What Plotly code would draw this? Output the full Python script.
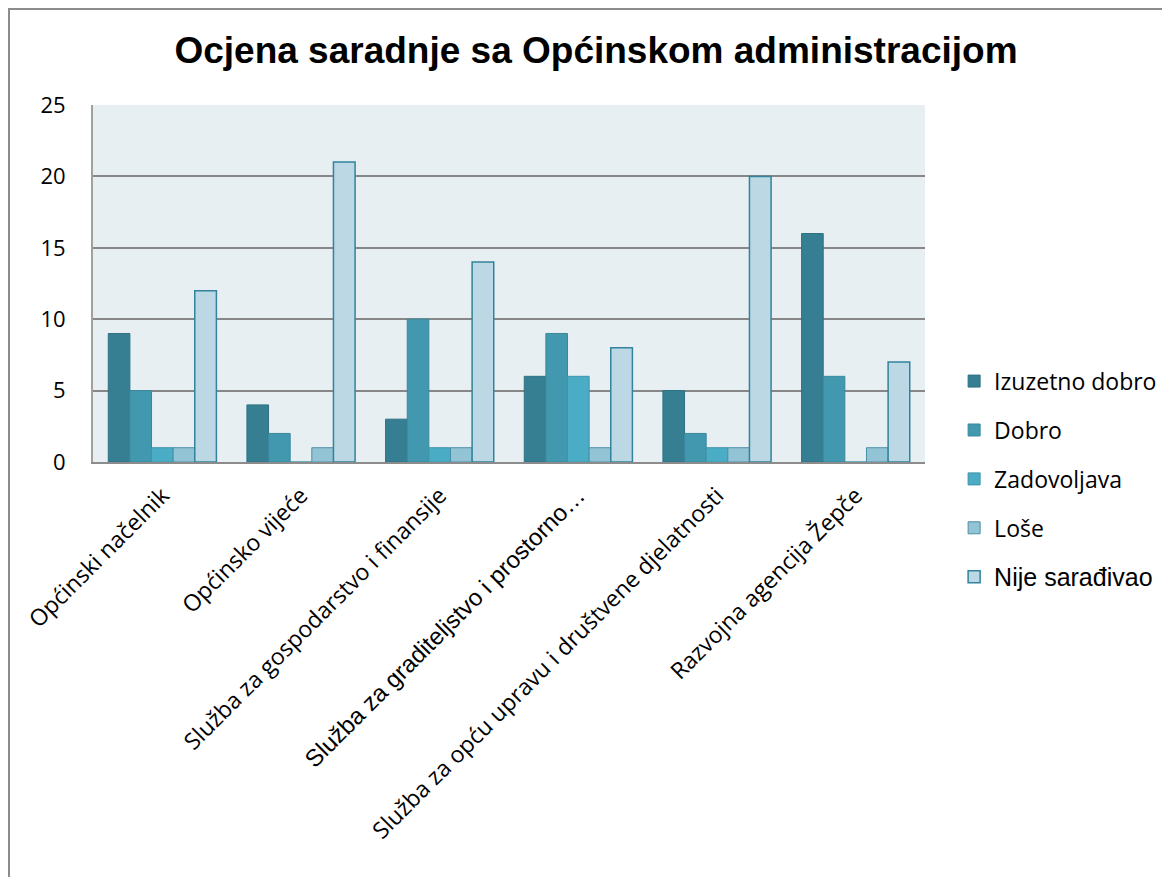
import plotly.graph_objects as go

categories = [
    "Općinski načelnik",
    "Općinsko vijeće",
    "Služba za gospodarstvo i finansije",
    "Služba za graditeljstvo i prostorno…",
    "Služba za opću upravu i društvene djelatnosti",
    "Razvojna agencija Žepče",
]
series_names = ["Izuzetno dobro", "Dobro", "Zadovoljava", "Loše", "Nije sarađivao"]
izuzetno_dobro = [9, 4, 3, 6, 5, 16]
dobro = [5, 2, 10, 9, 2, 6]
zadovoljava = [1, 0, 1, 6, 1, 0]
lose = [1, 1, 1, 1, 1, 1]
nije_saradjivao = [12, 21, 14, 8, 20, 7]
y_ticks = [0, 5, 10, 15, 20, 25]

values = [izuzetno_dobro, dobro, zadovoljava, lose, nije_saradjivao]
fills = ["#367F93", "#4198AF", "#4BACC6", "#93C4D6", "#BCD8E4"]
edges = ["#2F7184", "#3A889D", "#3E93AB", "#4A8FA6", "#31849B"]

# the 4th label and the last legend entry use a different (Arial-like) font in the original
alt = '<span style="font-family:Liberation Sans, Arial; font-size:{}px">{}</span>'
tick_text = [alt.format(24, c) if i == 3 else c for i, c in enumerate(categories)]

fig = go.Figure()
for i, (name, vals) in enumerate(zip(series_names, values)):
    fig.add_trace(
        go.Bar(
            x=categories,
            y=vals,
            name=alt.format(25, name) if i == 4 else name,
            legendgroup=name,
            marker=dict(color=fills[i], line=dict(color=edges[i], width=1.5 if i == 4 else 1)),
        )
    )

# page body has an 8px margin, so the figure is shifted by 8px; sizes account for it
L, T, PW, PH = 85, 97, 832, 357

fig.update_layout(
    width=1162,
    height=869,
    barmode="group",
    bargap=0.22,
    bargroupgap=0,
    paper_bgcolor="white",
    plot_bgcolor="#E8EFF3",
    margin={"l": L, "r": 1162 - L - PW, "t": T, "b": 869 - T - PH, "autoexpand": False},
    font=dict(family="Open Sans", size=22, color="black"),
    title=dict(
        text="<b>Ocjena saradnje sa Općinskom administracijom</b>",
        x=588 / 1162,
        xref="container",
        xanchor="center",
        y=1 - 42 / 869,
        yref="container",
        yanchor="middle",
        font=dict(family="Liberation Sans", size=37, color="black"),
    ),
    legend=dict(
        x=1.035,
        xanchor="left",
        y=-0.048,
        yanchor="middle",
        tracegroupgap=16,
        font=dict(family="Open Sans", size=23),
        itemwidth=30,
    ),
    shapes=[
        dict(
            type="rect",
            xref="paper",
            yref="paper",
            x0=(1 - L) / PW,
            x1=(1200 - L) / PW,
            y0=(T + PH - 900) / PH,
            y1=(T + PH - 1) / PH,
            line=dict(color="#8C8C8C", width=2),
            fillcolor="rgba(0,0,0,0)",
            layer="below",
        )
    ],
)

fig.update_xaxes(
    tickangle=-45,
    showline=True,
    linecolor="#8C8C8C",
    linewidth=2,
    ticks="",
    tickvals=categories,
    ticktext=tick_text,
    tickfont=dict(size=23),
    ticklabelstandoff=9,
    automargin=False,
)
fig.update_yaxes(
    range=[0, 25],
    tickvals=y_ticks,
    showgrid=True,
    gridcolor="#878787",
    gridwidth=1.5,
    showline=True,
    linecolor="#A0A0A0",
    linewidth=2,
    zeroline=False,
    ticklabelstandoff=21,
    tickfont=dict(size=22),
    automargin=False,
)

fig.write_html("out.html")
